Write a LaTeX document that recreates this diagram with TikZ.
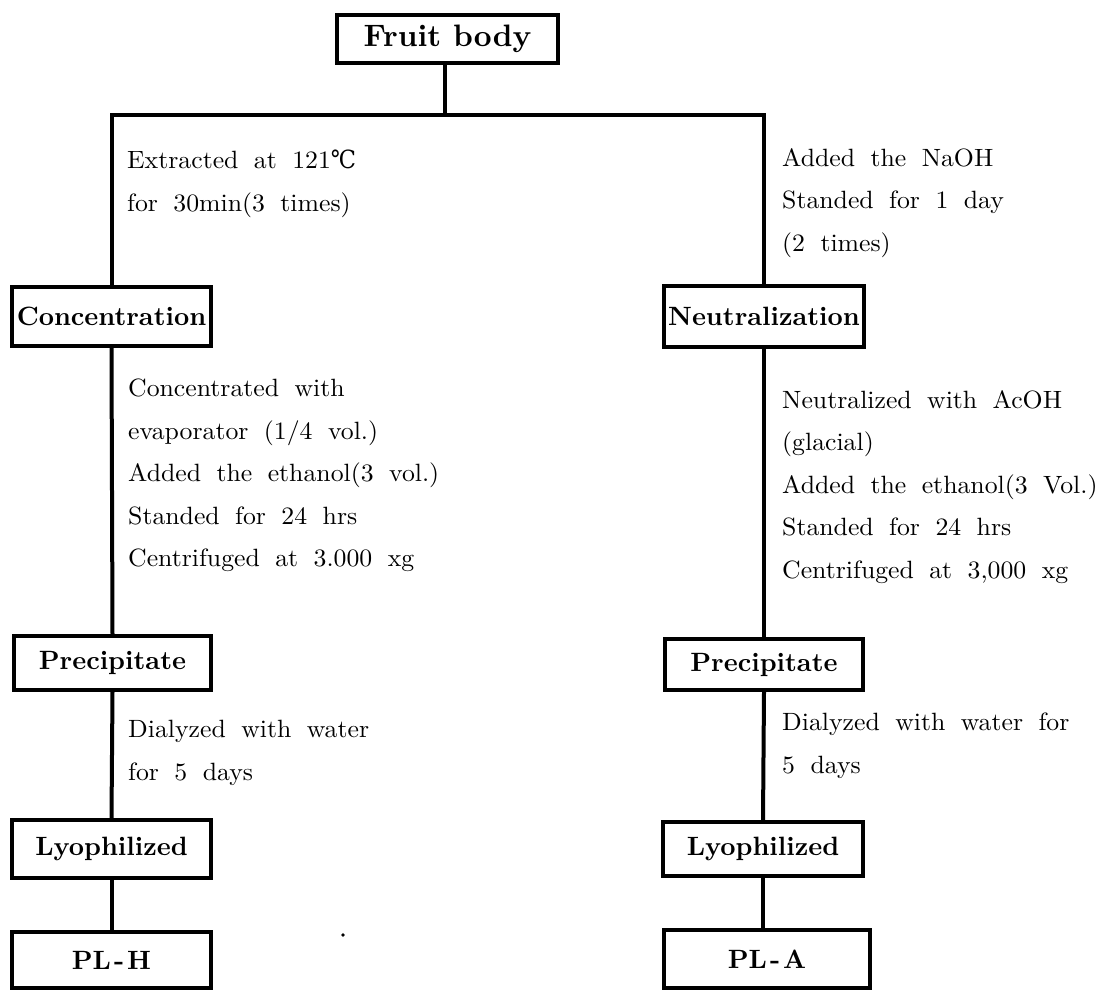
\documentclass[tikz,border=0pt]{standalone}
\usepackage{fontspec}
\newfontfamily\regfont{lmroman10-regular.otf}[FakeStretch=1.03, WordSpace=1.8]
\newfontfamily\bffont{lmroman10-bold.otf}
\newfontfamily\symfont{DejaVu Serif}[FakeStretch=0.9]
\begin{document}
\begin{tikzpicture}[x=1pt,y=-1pt,
  box/.style={draw, line width=4pt, fill=white, inner sep=0pt, font=\bffont\fontsize{26.5}{30}\selectfont},
  conn/.style={line width=4pt},
  note/.style={anchor=north west, inner sep=0pt, align=left, font=\regfont\fontsize{25}{42.5}\selectfont}]
\useasboundingbox (0,0) rectangle (1107,992);
% boxes
\node[box, minimum width=221pt, minimum height=48pt, font=\bffont\fontsize{31}{34}\selectfont] (fruit) at (447.5,39) {Fruit body};
\node[box, minimum width=199pt, minimum height=59pt] (conc) at (111.5,316.5) {Concentration};
\node[box, minimum width=200pt, minimum height=61pt] (neut) at (764,316.5) {Neutralization};
\node[box, minimum width=197pt, minimum height=54pt] (precL) at (112.5,663) {Precipitate};
\node[box, minimum width=198pt, minimum height=51pt] (precR) at (764,664.5) {Precipitate};
\node[box, minimum width=199pt, minimum height=58pt] (lyoL) at (111.5,849) {Lyophilized};
\node[box, minimum width=200pt, minimum height=54pt] (lyoR) at (763,849) {Lyophilized};
\node[box, minimum width=199pt, minimum height=56pt] (plh) at (111.5,960) {PL\kern3pt-\kern3pt H};
\node[box, minimum width=206pt, minimum height=58pt] (pla) at (767,959) {PL\kern3pt-\kern3pt A};
% connectors
\coordinate (j) at (445,115);
\draw[conn] (fruit.south -| j) -- (j);
\draw[conn] (conc.north) |- (j) -| (neut.north);
\draw[conn] (conc.south) -- (precL.north);
\draw[conn] (precL.south) -- (lyoL.north);
\draw[conn] (lyoL.south) -- (plh.north);
\draw[conn] (neut.south) -- (precR.north);
\draw[conn] (precR.south) -- (lyoR.north);
\draw[conn] (lyoR.south) -- (lyoR.south |- pla.north);
% notes
\node[note] (t1) at (127,150) {Extracted at 121{\symfont ℃}\\for 30min(3 times)};
\node[note] (t2) at (782,148) {Added the NaOH\\Standed for 1 day\\(2 times)};
\node[note] (t3) at (128,379) {Concentrated with\\evaporator (1/4 vol.)\\Added the ethanol(3 vol.)\\Standed for 24 hrs\\Centrifuged at 3.000 xg};
\node[note] (t4) at (782,390) {Neutralized with AcOH\\(glacial)\\Added the ethanol(3 Vol.)\\Standed for 24 hrs\\Centrifuged at 3,000 xg};
\node[note] (t5) at (128,720) {Dialyzed with water\\for 5 days};
\node[note] (t6) at (782,713) {Dialyzed with water for\\5 days};
% stray dot
\fill (343,935) circle (1.8pt);
\end{tikzpicture}
\end{document}
